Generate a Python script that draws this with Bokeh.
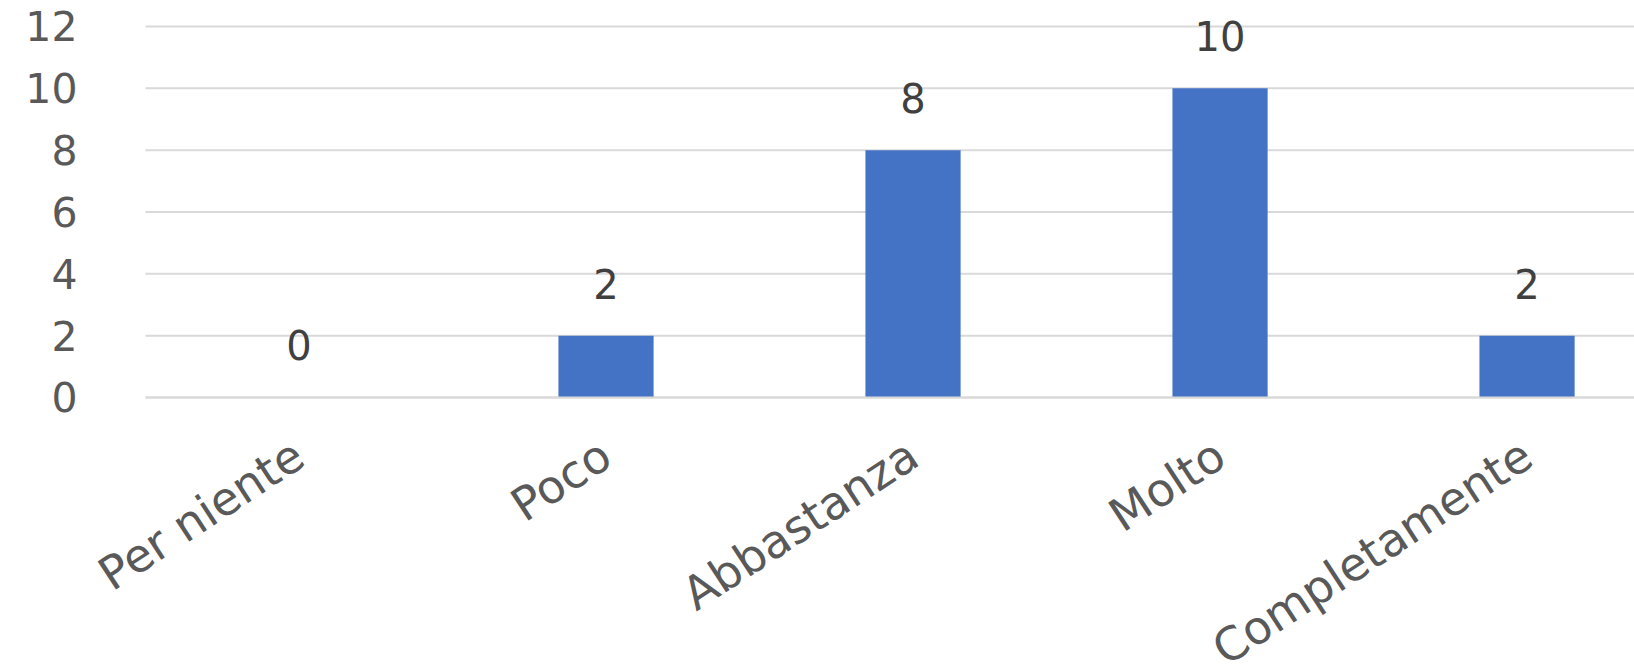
from bokeh.plotting import figure
from bokeh.models import Range1d, FixedTicker, ColumnDataSource, LabelSet
from bokeh.core.properties import value
from bokeh.embed import file_html
from bokeh.resources import INLINE

categories = ["Per niente", "Poco", "Abbastanza", "Molto", "Completamente"]
values = [0, 2, 8, 10, 2]
y_ticks = [0, 2, 4, 6, 8, 10, 12]

xpos = [i + 0.5 for i in range(len(categories))]
src = ColumnDataSource(dict(x=xpos, top=values, lab=[str(v) for v in values]))

FONT = "DejaVu Sans"
X_END = 4.85

# the frame covers the whole page; value axis and category axis are pinned at 0
p = figure(width=1634, height=669, output_backend="svg", toolbar_location=None,
           x_range=Range1d(-0.4723, X_END), y_range=Range1d(-8.797, 12.807),
           min_border_left=0, min_border_right=0, min_border_top=1,
           min_border_bottom=0)
p.outline_line_color = None
p.background_fill_color = "white"
p.border_fill_color = "white"

# horizontal gridlines limited to the plot area (from the value axis rightwards)
grid_src = ColumnDataSource(dict(x0=[0] * len(y_ticks), x1=[X_END] * len(y_ticks),
                                 y=y_ticks))
p.segment(x0="x0", y0="y", x1="x1", y1="y", source=grid_src,
          line_color="#d9d9d9", line_width=2, level="underlay")

p.vbar(x="x", top="top", bottom=0, width=0.31, source=src,
       fill_color="#4472C4", line_color=None)

labels = LabelSet(x="x", y="top", text="lab", source=src, text_align="center",
                  text_baseline="alphabetic", y_offset=37, text_font=value(FONT),
                  text_font_size="40px", text_color="#404040")
p.add_layout(labels)

p.xgrid.grid_line_color = None
p.ygrid.grid_line_color = None

p.yaxis.fixed_location = 0
p.yaxis.ticker = FixedTicker(ticks=y_ticks)
p.yaxis.axis_line_color = None
p.yaxis.major_tick_line_color = None
p.yaxis.minor_tick_line_color = None
p.yaxis.major_label_text_font = FONT
p.yaxis.major_label_text_font_size = "41px"
p.yaxis.major_label_text_color = "#595959"
p.yaxis.major_label_standoff = 62

p.xaxis.fixed_location = 0
p.xaxis.bounds = (0, X_END)
p.xaxis.ticker = FixedTicker(ticks=xpos)
p.xaxis.major_label_overrides = {x: c for x, c in zip(xpos, categories)}
p.xaxis.axis_line_color = "#d9d9d9"
p.xaxis.axis_line_width = 2
p.xaxis.major_tick_line_color = None
p.xaxis.minor_tick_line_color = None
p.xaxis.major_label_orientation = 0.58
p.xaxis.major_label_text_font = FONT
p.xaxis.major_label_text_font_size = "46px"
p.xaxis.major_label_text_color = "#595959"
p.xaxis.major_label_standoff = 47

open("out.html", "w").write(file_html(p, INLINE))
